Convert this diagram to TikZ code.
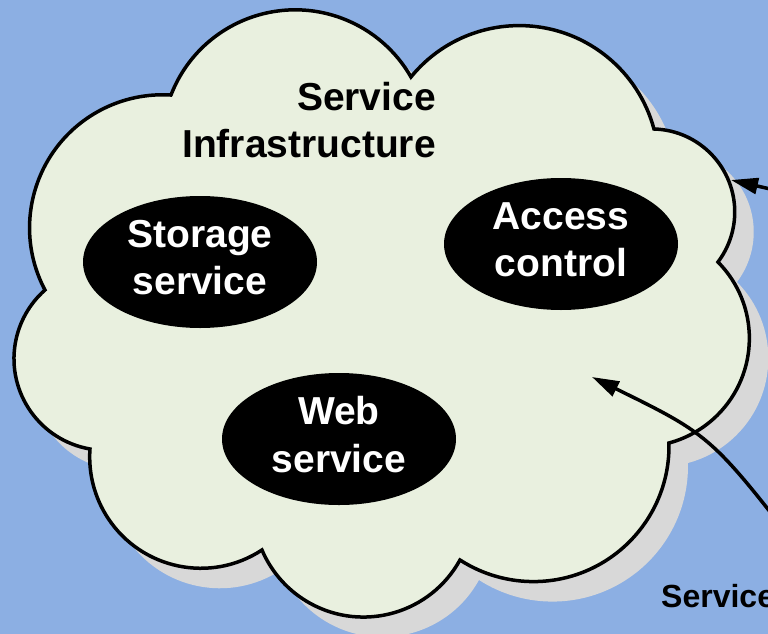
\documentclass[tikz,border=0pt]{standalone}
\usepackage{fontspec}
\setmainfont{Liberation Sans}
\usetikzlibrary{shapes.geometric,arrows.meta}

\definecolor{skyblue}{HTML}{8CAFE3}
\definecolor{cloudfill}{HTML}{E9F0DF}
\definecolor{cloudshadow}{HTML}{D8D8D8}

% One bulge of the cloud: a circular arc from (#2,#3) to (#4,#5) that bulges
% outwards by #6 (coordinates with y pointing down, outline traced clockwise).
% Defines the style lobe#1 holding the arc's angles and radius.
% Lengths are handled in hundreds to keep the arithmetic small.
\newcommand\cloudlobe[6]{%
  \pgfmathsetmacro\lbdx{(#4-#2)/100}%
  \pgfmathsetmacro\lbdy{(#5-#3)/100}%
  \pgfmathsetmacro\lbh{#6/100}%
  \pgfmathsetmacro\lbc{sqrt(\lbdx*\lbdx+\lbdy*\lbdy)}%
  \pgfmathsetmacro\lbr{(\lbh*\lbh+\lbc*\lbc/4)/(2*\lbh)}%
  \pgfmathsetmacro\lbcx{(#2+#4)/200+(\lbh-\lbr)*\lbdy/\lbc}%
  \pgfmathsetmacro\lbcy{(#3+#5)/200-(\lbh-\lbr)*\lbdx/\lbc}%
  \pgfmathsetmacro\lbs{atan2(#3/100-\lbcy,#2/100-\lbcx)}%
  \pgfmathsetmacro\lbe{atan2(#5/100-\lbcy,#4/100-\lbcx)}%
  \pgfmathsetmacro\lbe{\lbe<\lbs ? \lbe+360 : \lbe}%
  \pgfmathsetmacro\lbr{100*\lbr}%
  \edef\lbtmp{\noexpand\tikzset{lobe#1/.style={start angle=\lbs,end angle=\lbe,radius=\lbr}}}%
  \lbtmp}

\newcommand\lowpad{\rule[-9pt]{0pt}{9pt}}

\begin{document}
\begin{tikzpicture}[x=1pt,y=-1pt,
  outline/.style={draw=black,line width=3.5pt,line join=miter,miter limit=3},
  svc/.style={ellipse,fill=black,text=white,minimum width=234pt,minimum height=132pt,
    inner sep=0pt,align=center,font=\bfseries\fontsize{39}{47.5}\selectfont},
  title/.style={inner sep=0pt,align=right,font=\bfseries\fontsize{39}{47.5}\selectfont},
  arr/.style={line width=3.5pt,-{Triangle[length=27pt,width=16pt]}}]

% background
\fill[skyblue] (0,0) rectangle (768,634);
\useasboundingbox (0,0) rectangle (768,634);

% the nine bulges of the cloud, between its cusps
\cloudlobe{1}{171}{95}{411}{77}{76}
\cloudlobe{2}{411}{77}{654}{129}{76}
\cloudlobe{3}{654}{129}{718}{262}{45}
\cloudlobe{4}{718}{262}{669}{443}{54}
\cloudlobe{5}{669}{443}{460}{560}{72}
\cloudlobe{6}{460}{560}{262}{550}{62}
\cloudlobe{7}{262}{550}{90}{449}{62}
\cloudlobe{8}{90}{449}{45}{290}{52}
\cloudlobe{9}{45}{290}{171}{95}{68}

% shadow of the cloud
\fill[cloudshadow,shift={(19,20)}] (171,95) arc[lobe1] arc[lobe2] arc[lobe3]
  arc[lobe4] arc[lobe5] arc[lobe6] arc[lobe7] arc[lobe8] arc[lobe9] -- cycle;

% the cloud
\path[outline,fill=cloudfill] (171,95) arc[lobe1] arc[lobe2] arc[lobe3]
  arc[lobe4] arc[lobe5] arc[lobe6] arc[lobe7] arc[lobe8] arc[lobe9] -- cycle;

% labels and services
\node[title,anchor=north east] (infra) at (436,82) {Service\\Infrastructure};
\node[svc] (storage) at (200,262) {Storage\\service\lowpad};
\node[svc] (access) at (561,244) {Access\\control\lowpad};
\node[svc] (web) at (339,439) {Web\\service\lowpad};

\node[anchor=base west,inner sep=0pt,font=\bfseries\fontsize{32}{38}\selectfont]
  (svclabel) at (661,607) {Service};

% connectors entering from the right
\coordinate (src1) at (840,205);
\coordinate (tip1) at (731,180);
\coordinate (src2) at (812,566);
\coordinate (tip2) at (592,377);
\draw[arr] (src1) -- (tip1);
\draw[arr] (src2) .. controls (712,436) .. (tip2);
\end{tikzpicture}
\end{document}
